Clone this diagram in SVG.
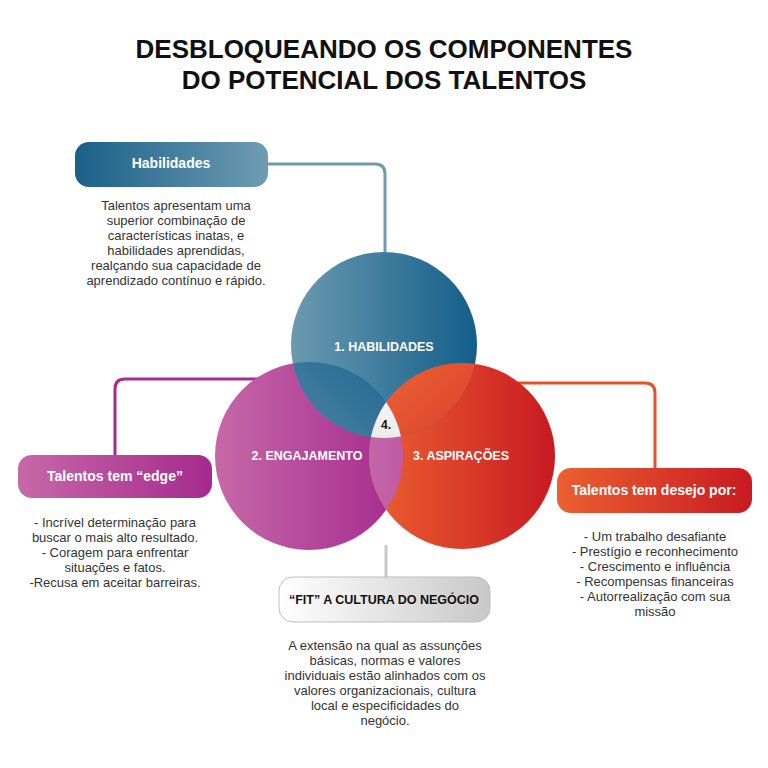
<svg xmlns="http://www.w3.org/2000/svg" width="768" height="768" viewBox="0 0 768 768">
<style>
text{font-family:"Liberation Sans",Arial,sans-serif}
.t{font-weight:bold;font-size:26px;fill:#111;text-anchor:middle}
.b{font-size:13px;fill:#333;text-anchor:middle}
.cl{font-weight:bold;font-size:12.5px;fill:#fff;text-anchor:middle}
.bl{font-weight:bold;font-size:14px;fill:#fff;text-anchor:middle}
.ln{fill:none;stroke-width:3}
</style>
<defs>
<linearGradient id="gB" x1="0" x2="1"><stop offset="0" stop-color="#6b9ab0"/><stop offset="1" stop-color="#135e8a"/></linearGradient>
<linearGradient id="gBb" x1="0" x2="1"><stop offset="0" stop-color="#1a6088"/><stop offset="1" stop-color="#6f9cb2"/></linearGradient>
<linearGradient id="gP" x1="0" x2="1"><stop offset="0" stop-color="#c668a8"/><stop offset="1" stop-color="#a52a8e"/></linearGradient>
<linearGradient id="gR" x1="0" x2="1"><stop offset="0" stop-color="#ec6030"/><stop offset="1" stop-color="#c81a22"/></linearGradient>
<linearGradient id="gG" x1="0" x2="1"><stop offset="0" stop-color="#ffffff"/><stop offset="1" stop-color="#c8c8c8"/></linearGradient>
<linearGradient id="gI12" x1="1" y1="0" x2="0" y2="1"><stop offset="0" stop-color="#1e6590"/><stop offset="1" stop-color="#7ba3b8"/></linearGradient>
<linearGradient id="gI13" x1="0" y1="0" x2="1" y2="1"><stop offset="0" stop-color="#ee6535"/><stop offset="1" stop-color="#c21a22"/></linearGradient>
<linearGradient id="gI23" x1="0" x2="1"><stop offset="0" stop-color="#c466a8"/><stop offset="1" stop-color="#a8288e"/></linearGradient>
<linearGradient id="gW" x1="0" y1="0" x2="0" y2="1"><stop offset="0" stop-color="#ffffff"/><stop offset="1" stop-color="#cfcfcf"/></linearGradient>
<clipPath id="c1"><circle cx="384" cy="345" r="93"/></clipPath>
<clipPath id="c2"><circle cx="309" cy="456" r="94"/></clipPath>
</defs>
<text class="t" x="384" y="58">DESBLOQUEANDO OS COMPONENTES</text>
<text class="t" x="384" y="89">DO POTENCIAL DOS TALENTOS</text>
<g id="connectors">
<path class="ln" stroke="#6f9ab0" d="M268 164 H375 Q385 164 385 174 V252"/>
<path class="ln" stroke="#a82a8e" d="M262 379 H125 Q115 379 115 389 V455"/>
<path class="ln" stroke="#e8502c" d="M510 383 H645 Q655 383 655 393 V468"/>
<path class="ln" stroke="#c8c8c8" d="M386 545 V577"/>
</g>
<g id="circles">
<circle cx="309" cy="456" r="94" fill="url(#gP)"/>
<circle cx="462" cy="456" r="93" fill="url(#gR)"/>
<circle cx="384" cy="345" r="93" fill="url(#gB)"/>
<g clip-path="url(#c1)"><circle cx="309" cy="456" r="94" fill="url(#gI12)"/></g>
<g clip-path="url(#c1)"><circle cx="462" cy="456" r="93" fill="url(#gI13)"/></g>
<g clip-path="url(#c2)"><circle cx="462" cy="456" r="93" fill="url(#gI23)"/></g>
<g clip-path="url(#c1)"><g clip-path="url(#c2)"><circle cx="462" cy="456" r="93" fill="url(#gW)"/></g></g>
<text class="cl" x="384" y="351">1. HABILIDADES</text>
<text class="cl" x="307" y="460">2. ENGAJAMENTO</text>
<text class="cl" x="461" y="460">3. ASPIRAÇÕES</text>
<text x="386" y="429" style="font-weight:bold;font-size:12px;fill:#111;text-anchor:middle">4.</text>
</g>
<g id="habilidades">
<rect x="75" y="142" width="193" height="45" rx="14" fill="url(#gBb)"/>
<text class="bl" x="171" y="168">Habilidades</text>
<text class="b" x="176" y="210">Talentos apresentam uma</text>
<text class="b" x="176" y="225">superior combinação de</text>
<text class="b" x="176" y="240">características inatas, e</text>
<text class="b" x="176" y="255">habilidades aprendidas,</text>
<text class="b" x="176" y="270">realçando sua capacidade de</text>
<text class="b" x="176" y="285">aprendizado contínuo e rápido.</text>
</g>
<g id="edge">
<rect x="18" y="455" width="194" height="43" rx="14" fill="url(#gP)"/>
<text class="bl" x="115" y="481">Talentos tem “edge”</text>
<text class="b" x="115" y="527">- Incrível determinação para</text>
<text class="b" x="115" y="542">buscar o mais alto resultado.</text>
<text class="b" x="115" y="557">- Coragem para enfrentar</text>
<text class="b" x="115" y="572">situações e fatos.</text>
<text class="b" x="115" y="587">-Recusa em aceitar barreiras.</text>
</g>
<g id="desejo">
<rect x="557" y="468" width="195" height="45" rx="14" fill="url(#gR)"/>
<text class="bl" x="654" y="495">Talentos tem desejo por:</text>
<text class="b" x="655" y="541">- Um trabalho desafiante</text>
<text class="b" x="655" y="556">- Prestígio e reconhecimento</text>
<text class="b" x="655" y="571">- Crescimento e influência</text>
<text class="b" x="655" y="586">- Recompensas financeiras</text>
<text class="b" x="655" y="601">- Autorrealização com sua</text>
<text class="b" x="655" y="616">missão</text>
</g>
<g id="fit">
<rect x="279" y="577" width="211" height="45" rx="14" fill="url(#gG)" stroke="#bdbdbd" stroke-width="1"/>
<text x="384" y="604" style="font-weight:bold;font-size:12.5px;fill:#111;text-anchor:middle">“FIT” A CULTURA DO NEGÓCIO</text>
<text class="b" x="385" y="650">A extensão na qual as assunções</text>
<text class="b" x="385" y="665">básicas, normas e valores</text>
<text class="b" x="385" y="680">individuais estão alinhados com os</text>
<text class="b" x="385" y="695">valores organizacionais, cultura</text>
<text class="b" x="385" y="710">local e especificidades do</text>
<text class="b" x="385" y="725">negócio.</text>
</g>
</svg>
